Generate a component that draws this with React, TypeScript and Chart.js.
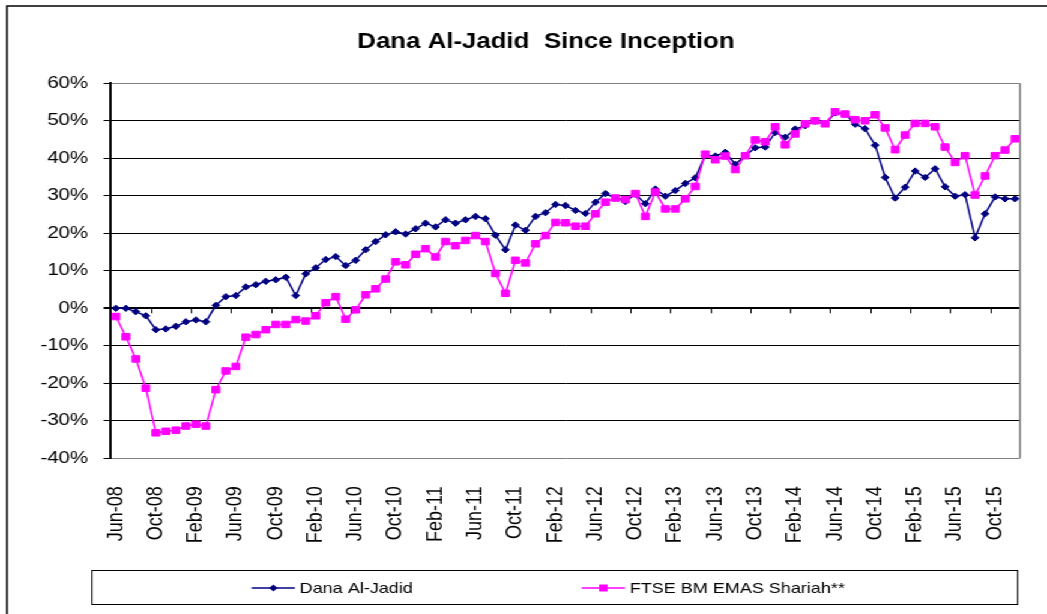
import React, { useEffect, useRef } from 'react';
import { Chart, registerables } from 'chart.js';

Chart.register(...registerables);

const chartTitle = 'Dana Al-Jadid  Since Inception';
const seriesNames = ['Dana Al-Jadid', 'FTSE BM EMAS Shariah**'];

const months = [
  'Jun-08', 'Jul-08', 'Aug-08', 'Sep-08', 'Oct-08', 'Nov-08', 'Dec-08',
  'Jan-09', 'Feb-09', 'Mar-09', 'Apr-09', 'May-09', 'Jun-09', 'Jul-09', 'Aug-09', 'Sep-09', 'Oct-09', 'Nov-09', 'Dec-09',
  'Jan-10', 'Feb-10', 'Mar-10', 'Apr-10', 'May-10', 'Jun-10', 'Jul-10', 'Aug-10', 'Sep-10', 'Oct-10', 'Nov-10', 'Dec-10',
  'Jan-11', 'Feb-11', 'Mar-11', 'Apr-11', 'May-11', 'Jun-11', 'Jul-11', 'Aug-11', 'Sep-11', 'Oct-11', 'Nov-11', 'Dec-11',
  'Jan-12', 'Feb-12', 'Mar-12', 'Apr-12', 'May-12', 'Jun-12', 'Jul-12', 'Aug-12', 'Sep-12', 'Oct-12', 'Nov-12', 'Dec-12',
  'Jan-13', 'Feb-13', 'Mar-13', 'Apr-13', 'May-13', 'Jun-13', 'Jul-13', 'Aug-13', 'Sep-13', 'Oct-13', 'Nov-13', 'Dec-13',
  'Jan-14', 'Feb-14', 'Mar-14', 'Apr-14', 'May-14', 'Jun-14', 'Jul-14', 'Aug-14', 'Sep-14', 'Oct-14', 'Nov-14', 'Dec-14',
  'Jan-15', 'Feb-15', 'Mar-15', 'Apr-15', 'May-15', 'Jun-15', 'Jul-15', 'Aug-15', 'Sep-15', 'Oct-15', 'Nov-15', 'Dec-15',
];

const danaAlJadid = [
  0.0, 0.0, -0.9, -2.0, -5.7, -5.5, -4.8, -3.6, -3.1, -3.6,
  0.8, 3.1, 3.4, 5.7, 6.3, 7.2, 7.6, 8.3, 3.4, 9.2,
  10.8, 13.0, 13.8, 11.4, 12.8, 15.6, 17.8, 19.6, 20.4, 19.8,
  21.2, 22.7, 21.7, 23.6, 22.7, 23.6, 24.5, 23.9, 19.5, 15.6,
  22.2, 20.8, 24.5, 25.5, 27.7, 27.4, 26.1, 25.3, 28.3, 30.6,
  29.4, 28.5, 30.4, 27.9, 31.8, 29.9, 31.4, 33.3, 34.8, 40.8,
  40.6, 41.6, 38.4, 40.7, 42.8, 43.0, 46.9, 45.6, 47.8, 48.7,
  49.9, 49.2, 52.1, 51.8, 49.1, 47.9, 43.5, 34.9, 29.4, 32.3,
  36.6, 34.9, 37.2, 32.4, 29.9, 30.3, 18.8, 25.2, 29.7, 29.2,
  29.2,
];

const ftseEmasShariah = [
  -2.2, -7.6, -13.5, -21.3, -33.2, -32.8, -32.5, -31.4, -30.9, -31.4,
  -21.7, -16.7, -15.5, -7.7, -7.0, -5.7, -4.3, -4.3, -3.0, -3.4,
  -2.0, 1.5, 3.1, -2.9, -0.4, 3.6, 5.2, 7.8, 12.4, 11.6,
  14.4, 15.9, 13.7, 17.8, 16.7, 18.1, 19.4, 17.8, 9.3, 4.0,
  12.8, 12.1, 17.2, 19.4, 22.9, 22.8, 21.9, 21.9, 25.2, 28.3,
  29.4, 29.0, 30.6, 24.5, 31.0, 26.5, 26.5, 29.2, 32.5, 41.1,
  39.6, 40.6, 37.0, 40.7, 44.9, 44.4, 48.4, 43.6, 46.5, 49.2,
  50.0, 49.2, 52.4, 51.8, 50.3, 50.0, 51.6, 48.1, 42.3, 46.2,
  49.3, 49.3, 48.4, 43.0, 38.9, 40.7, 30.2, 35.3, 40.7, 42.2,
  45.2,
];

const yMin = -40;
const yMax = 60;
const yStep = 10;
const labelEvery = 4;

const W = 872;
const H = 614;
const SX = 1047 / W;
const FONT = '"Liberation Sans", Arial, Helvetica, sans-serif';

const decorPlugin = {
  id: 'decor',
  beforeDatasetsDraw(chart: any) {
    const { ctx, chartArea: a, scales } = chart;
    const xs = scales.x;
    const ys = scales.y;
    ctx.save();
    ctx.strokeStyle = '#808080';
    ctx.lineWidth = 1.5;
    ctx.beginPath();
    ctx.moveTo(a.right, a.top);
    ctx.lineTo(a.right, a.bottom);
    ctx.stroke();
    const y0 = ys.getPixelForValue(0);
    ctx.strokeStyle = '#000';
    ctx.lineWidth = 1;
    ctx.beginPath();
    for (let i = labelEvery; i < months.length; i += labelEvery) {
      const px = Math.round((xs.getPixelForValue(i - 1) + xs.getPixelForValue(i)) / 2) + 0.5;
      ctx.moveTo(px, y0);
      ctx.lineTo(px, y0 + 5);
    }
    ctx.stroke();
    ctx.restore();
  },
  afterDraw(chart: any) {
    const { ctx } = chart;
    ctx.save();
    // outer frame
    ctx.strokeStyle = '#000';
    ctx.lineWidth = 1.5;
    ctx.beginPath();
    ctx.moveTo(5.8, H);
    ctx.lineTo(5.8, 6);
    ctx.lineTo(W, 6);
    ctx.stroke();
    // title
    ctx.fillStyle = '#000';
    ctx.font = `bold 21.5px ${FONT}`;
    ctx.textAlign = 'center';
    ctx.textBaseline = 'middle';
    ctx.fillText(chartTitle, 454.7, 42);
    // legend box
    ctx.lineWidth = 1;
    ctx.strokeStyle = '#000';
    ctx.strokeRect(76.6, 570.5, 771, 34);
    const ly = 588;
    const legendX = [209.6, 484.5];
    chart.data.datasets.forEach((ds: any, k: number) => {
      const x0 = legendX[k];
      const x1 = x0 + 36;
      const cx = (x0 + x1) / 2;
      ctx.strokeStyle = ds.borderColor;
      ctx.lineWidth = 1.5;
      ctx.beginPath();
      ctx.moveTo(x0, ly);
      ctx.lineTo(x1, ly);
      ctx.stroke();
      ctx.fillStyle = ds.pointBackgroundColor;
      if (ds.pointStyle === 'rectRot') {
        ctx.beginPath();
        ctx.moveTo(cx, ly - 3.5);
        ctx.lineTo(cx + 3.5, ly);
        ctx.lineTo(cx, ly + 3.5);
        ctx.lineTo(cx - 3.5, ly);
        ctx.closePath();
        ctx.fill();
      } else {
        ctx.fillRect(cx - 3.5, ly - 3.5, 7, 7);
      }
      ctx.fillStyle = '#000';
      ctx.font = `15px ${FONT}`;
      ctx.textAlign = 'left';
      ctx.textBaseline = 'middle';
      ctx.fillText(ds.label, x1 + 4, ly + 0.5);
    });
    ctx.restore();
  },
};

function ChartView() {
  const ref = useRef<HTMLCanvasElement | null>(null);
  useEffect(() => {
    if (!ref.current) return;
    const chart = new Chart(ref.current, {
      type: 'line',
      data: {
        labels: months,
        datasets: [
          {
            label: seriesNames[0],
            data: danaAlJadid,
            borderColor: '#000080',
            backgroundColor: '#000080',
            pointBackgroundColor: '#000080',
            pointBorderColor: '#000080',
            pointStyle: 'rectRot',
            pointRadius: 3.2,
            pointBorderWidth: 1,
            borderWidth: 1.5,
            tension: 0,
            order: 1,
          },
          {
            label: seriesNames[1],
            data: ftseEmasShariah,
            borderColor: '#FF00FF',
            backgroundColor: '#FF00FF',
            pointBackgroundColor: '#FF00FF',
            pointBorderColor: '#FF00FF',
            pointStyle: 'rect',
            pointRadius: 4.6,
            pointBorderWidth: 1,
            borderWidth: 1.5,
            tension: 0,
            order: 0,
          },
        ],
      },
      options: {
        animation: false,
        responsive: true,
        maintainAspectRatio: false,
        events: [],
        layout: { padding: { top: 83.3, right: 22.5, left: 0, bottom: 0 } },
        plugins: {
          legend: { display: false },
          title: { display: false },
          tooltip: { enabled: false },
        },
        scales: {
          x: {
            type: 'category',
            offset: true,
            grid: { display: false, drawTicks: false },
            border: { display: false },
            ticks: {
              autoSkip: false,
              maxRotation: 90,
              minRotation: 90,
              padding: 28,
              color: '#000',
              font: { family: FONT, size: 18 },
              callback: function (this: any, v: any, i: number) {
                return i % labelEvery === 0 ? this.getLabelForValue(v) : '';
              },
            },
            afterFit: (s: any) => {
              s.height = H - 458.3;
              s.paddingLeft = 0;
              s.paddingRight = 0;
            },
          },
          y: {
            min: yMin,
            max: yMax,
            ticks: {
              stepSize: yStep,
              padding: 13,
              color: '#000',
              font: { family: FONT, size: 17 },
              callback: (v: any) => `${v}%`,
            },
            grid: {
              color: (c: any) =>
                c.tick && (c.tick.value === yMax || c.tick.value === yMin) ? '#808080' : '#000',
              lineWidth: (c: any) => (c.tick && c.tick.value === 0 ? 2 : 1),
              tickColor: '#000',
              tickLength: 6,
              drawTicks: true,
            },
            border: { display: true, color: '#000', width: 2 },
            afterFit: (s: any) => {
              s.width = 92.4;
            },
          },
        },
      },
      plugins: [decorPlugin],
    });
    return () => chart.destroy();
  }, []);
  return <canvas ref={ref} />;
}

export default function App() {
  return (
    <div
      style={{
        position: 'fixed',
        left: 0,
        top: 0,
        width: W,
        height: H,
        background: '#fff',
        transform: `scaleX(${SX})`,
        transformOrigin: '0 0',
      }}
    >
      <ChartView />
    </div>
  );
}
